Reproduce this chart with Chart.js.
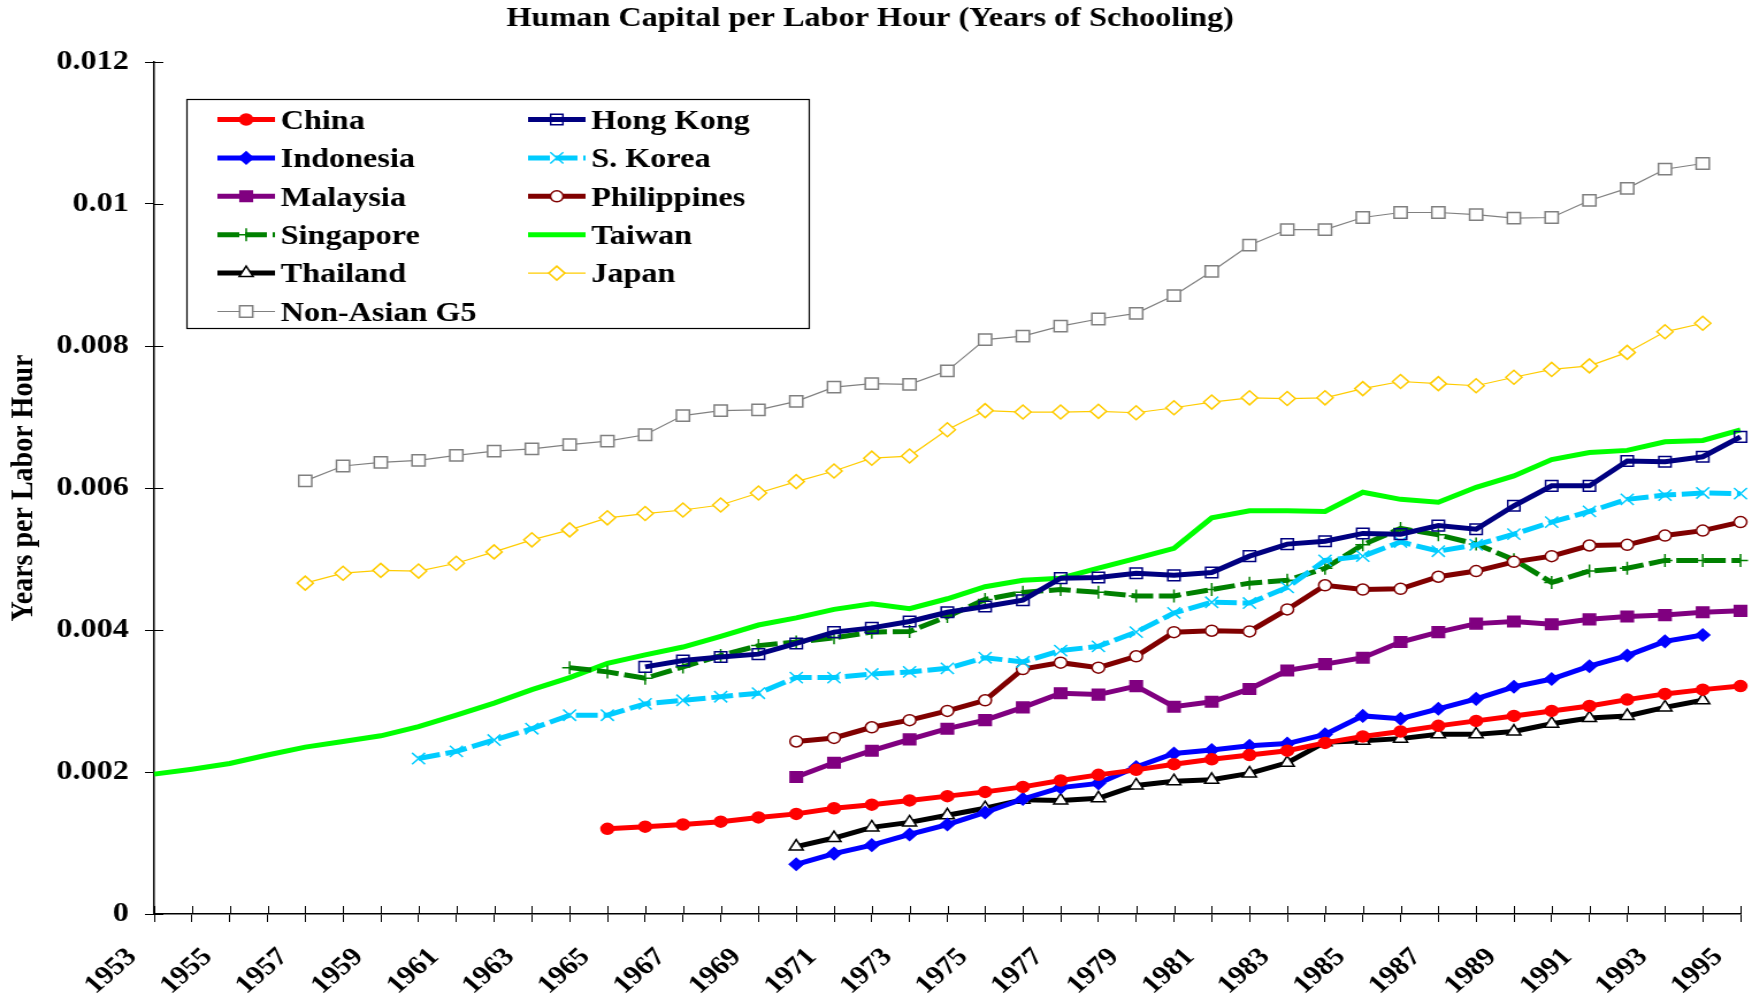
<!DOCTYPE html>
<html>
<head>
<meta charset="utf-8">
<script src="https://cdn.jsdelivr.net/npm/chart.js@4.4.0/dist/chart.umd.min.js"></script>
<style>
body{margin:0;background:#fff}
</style>
</head>
<body>
<canvas id="chart" width="1523" height="997" style="display:block;width:1752px;height:997px"></canvas>
<script>
'use strict';

// categories: one per year, labels every other year
var years = []
for (var yr = 1953; yr <= 1995; yr++) years.push(String(yr))

// series values (years of schooling per labor hour), with first year of each
var chinaStart = 1965
var china = [0.00120,0.00123,0.00126,0.00130,0.00136,0.00141,0.00149,0.00154,0.00160,0.00166,0.00172,0.00179,0.00188,0.00196,0.00203,0.00211,0.00218,0.00224,0.00230,0.00241,0.00250,0.00257,0.00265,0.00272,0.00279,0.00286,0.00293,0.00302,0.00310,0.00316,0.00321]
var hongKongStart = 1966
var hongKong = [0.00348,0.00357,0.00362,0.00366,0.00381,0.00397,0.00403,0.00412,0.00425,0.00433,0.00442,0.00473,0.00474,0.00480,0.00477,0.00481,0.00504,0.00521,0.00525,0.00536,0.00535,0.00547,0.00542,0.00575,0.00603,0.00603,0.00638,0.00637,0.00644,0.00672]
var indonesiaStart = 1970
var indonesia = [0.00070,0.00085,0.00097,0.00112,0.00126,0.00143,0.00162,0.00178,0.00184,0.00207,0.00226,0.00231,0.00237,0.00240,0.00253,0.00279,0.00275,0.00289,0.00303,0.00320,0.00331,0.00349,0.00364,0.00384,0.00393]
var koreaStart = 1960
var korea = [0.00219,0.00229,0.00245,0.00261,0.00280,0.00280,0.00296,0.00301,0.00306,0.00311,0.00333,0.00333,0.00338,0.00341,0.00346,0.00361,0.00355,0.00371,0.00377,0.00397,0.00424,0.00439,0.00438,0.00460,0.00498,0.00504,0.00524,0.00511,0.00520,0.00535,0.00552,0.00567,0.00584,0.00590,0.00593,0.00592]
var malaysiaStart = 1970
var malaysia = [0.00193,0.00213,0.00230,0.00246,0.00261,0.00273,0.00291,0.00311,0.00309,0.00321,0.00292,0.00299,0.00317,0.00343,0.00352,0.00361,0.00383,0.00397,0.00409,0.00412,0.00408,0.00415,0.00419,0.00421,0.00425,0.00427]
var philippinesStart = 1970
var philippines = [0.00243,0.00248,0.00263,0.00273,0.00286,0.00301,0.00345,0.00354,0.00347,0.00363,0.00397,0.00399,0.00398,0.00429,0.00463,0.00457,0.00458,0.00475,0.00483,0.00496,0.00504,0.00519,0.00520,0.00533,0.00540,0.00552]
var singaporeStart = 1964
var singapore = [0.00347,0.00341,0.00332,0.00348,0.00364,0.00378,0.00383,0.00389,0.00397,0.00398,0.00419,0.00443,0.00453,0.00457,0.00453,0.00448,0.00448,0.00457,0.00466,0.00470,0.00487,0.00520,0.00543,0.00534,0.00521,0.00499,0.00467,0.00483,0.00487,0.00498,0.00498,0.00498]
var taiwanStart = 1953
var taiwan = [0.00197,0.00204,0.00212,0.00224,0.00235,0.00243,0.00251,0.00264,0.00280,0.00297,0.00316,0.00333,0.00353,0.00365,0.00376,0.00391,0.00407,0.00417,0.00429,0.00437,0.00430,0.00444,0.00461,0.00470,0.00473,0.00487,0.00501,0.00515,0.00558,0.00568,0.00568,0.00567,0.00594,0.00584,0.00580,0.00601,0.00617,0.00640,0.00650,0.00653,0.00665,0.00667,0.00682]
var thailandStart = 1970
var thailand = [0.00095,0.00107,0.00122,0.00129,0.00139,0.00149,0.00161,0.00160,0.00163,0.00181,0.00187,0.00189,0.00198,0.00213,0.00242,0.00244,0.00247,0.00253,0.00253,0.00257,0.00268,0.00276,0.00279,0.00291,0.00301]
var japanStart = 1957
var japan = [0.00466,0.00480,0.00484,0.00483,0.00494,0.00510,0.00527,0.00541,0.00558,0.00564,0.00569,0.00576,0.00593,0.00609,0.00624,0.00642,0.00645,0.00682,0.00709,0.00707,0.00707,0.00708,0.00706,0.00713,0.00721,0.00727,0.00726,0.00727,0.00740,0.00750,0.00747,0.00744,0.00756,0.00767,0.00772,0.00791,0.00820,0.00832]
var g5Start = 1957
var g5 = [0.00610,0.00631,0.00636,0.00639,0.00646,0.00652,0.00655,0.00661,0.00666,0.00675,0.00702,0.00709,0.00710,0.00722,0.00742,0.00747,0.00746,0.00765,0.00809,0.00814,0.00828,0.00838,0.00846,0.00871,0.00905,0.00942,0.00964,0.00964,0.00981,0.00988,0.00988,0.00985,0.00980,0.00981,0.01005,0.01022,0.01049,0.01057]

var yTicks = [0, 0.002, 0.004, 0.006, 0.008, 0.01, 0.012]

const FONT = '"Liberation Serif", "Times New Roman", serif'

// put a series on the full year axis, null where there is no value
function onYears(start, values) {
	return years.map((y, i) => {
		var k = +y - start
		return k >= 0 && k < values.length ? values[k] : null
	})
}

function series(label, start, values, color, extra) {
	var ds = {
		label: label,
		data: onYears(start, values),
		borderColor: color,
		borderWidth: 5,
		pointBorderColor: color,
		pointBackgroundColor: color,
		pointBorderWidth: 1.5,
		pointRadius: 5.5,
		pointStyle: 'circle',
		tension: 0,
		clip: false
	}
	return Object.assign(ds, extra || {})
}

var datasets = [
	series('China', chinaStart, china, '#ff0000', {pointRadius: 5.5}),
	series('Hong Kong', hongKongStart, hongKong, '#000080', {pointStyle: 'rect', pointRadius: 7.5, pointBackgroundColor: 'rgba(0,0,0,0)'}),
	series('Indonesia', indonesiaStart, indonesia, '#0000ff', {pointStyle: 'rectRot', pointRadius: 6}),
	series('S. Korea', koreaStart, korea, '#00ccff', {borderDash: [19, 5], pointStyle: 'crossRot', pointRadius: 8}),
	series('Malaysia', malaysiaStart, malaysia, '#800080', {pointStyle: 'rect', pointRadius: 7.5}),
	series('Philippines', philippinesStart, philippines, '#800000', {pointRadius: 5.5, pointBackgroundColor: '#ffffff'}),
	series('Singapore', singaporeStart, singapore, '#008000', {borderDash: [19, 5], pointStyle: 'cross', pointRadius: 6.5}),
	series('Taiwan', taiwanStart, taiwan, '#00ff00', {pointRadius: 0}),
	series('Thailand', thailandStart, thailand, '#000000', {pointStyle: 'triangle', pointRadius: 7, pointBackgroundColor: '#ffffff'}),
	series('Japan', japanStart, japan, '#ffcc00', {borderWidth: 1.2, pointStyle: 'rectRot', pointRadius: 7, pointBackgroundColor: '#ffffff'}),
	series('Non-Asian G5', g5Start, g5, '#808080', {borderWidth: 1.2, pointStyle: 'rect', pointRadius: 8, pointBackgroundColor: '#ffffff'})
]

// tick marks that also reach into the plot, like the original axes
var crossTicks = {
	id: 'crossTicks',
	beforeDatasetsDraw: function(chart) {
		var x = chart.scales.x, y = chart.scales.y, ctx = chart.ctx
		ctx.save()
		ctx.strokeStyle = '#000'
		ctx.lineWidth = 1
		ctx.beginPath()
		x.ticks.forEach((t, i) => {
			var px = Math.round(x.getPixelForTick(i)) + 0.5
			ctx.moveTo(px, x.top)
			ctx.lineTo(px, x.top - 8)
		})
		y.ticks.forEach((t, i) => {
			var py = Math.round(y.getPixelForTick(i)) + 0.5
			ctx.moveTo(y.right, py)
			ctx.lineTo(y.right + 8, py)
		})
		ctx.stroke()
		ctx.restore()
	}
}

// boxed two-column legend inside the plot
var boxLegend = {
	id: 'boxLegend',
	afterDraw: function(chart) {
		var ctx = chart.ctx
		ctx.save()
		ctx.fillStyle = '#fff'
		ctx.fillRect(162, 99, 541, 229)
		ctx.strokeStyle = '#000'
		ctx.lineWidth = 1.2
		ctx.strokeRect(162.5, 99.5, 541, 229)
		chart.data.datasets.forEach((ds, i) => {
			var x0 = i % 2 ? 459 : 189
			var cy = 119.5 + Math.floor(i / 2) * 38.4
			ctx.strokeStyle = ds.borderColor
			ctx.lineWidth = ds.borderWidth
			ctx.setLineDash(ds.borderDash || [])
			ctx.beginPath()
			ctx.moveTo(x0, cy)
			ctx.lineTo(x0 + 50, cy)
			ctx.stroke()
			ctx.setLineDash([])
			if (ds.pointRadius > 0) {
				ctx.fillStyle = ds.pointBackgroundColor
				ctx.strokeStyle = ds.pointBorderColor
				ctx.lineWidth = ds.pointBorderWidth
				Chart.helpers.drawPoint(ctx, {pointStyle: ds.pointStyle, radius: ds.pointRadius, rotation: 0, borderWidth: ds.pointBorderWidth}, x0 + 25, cy)
			}
			ctx.fillStyle = '#000'
			ctx.font = 'bold 28px ' + FONT
			ctx.textAlign = 'left'
			ctx.textBaseline = 'middle'
			ctx.fillText(ds.label, x0 + 55, cy + 2)
		})
		ctx.restore()
	}
}

Chart.defaults.font.family = FONT
Chart.defaults.font.weight = 'bold'
Chart.defaults.color = '#000'

var chart = new Chart(document.getElementById('chart').getContext('2d'), {
	type: 'line',
	data: {labels: years, datasets: datasets},
	plugins: [crossTicks, boxLegend],
	options: {
		responsive: false,
		animation: false,
		devicePixelRatio: 1,
		layout: {padding: {left: 0, right: 10, top: 0, bottom: 0}},
		plugins: {
			legend: {display: false},
			tooltip: {enabled: false},
			title: {
				display: true,
				text: 'Human Capital per Labor Hour (Years of Schooling)',
				font: {size: 28, weight: 'bold', family: FONT},
				color: '#000',
				padding: {top: 2, bottom: 26.4}
			}
		},
		scales: {
			x: {
				type: 'category',
				offset: false,
				grid: {display: true, drawOnChartArea: false, drawTicks: true, tickLength: 8, color: '#000', offset: false},
				border: {display: true, color: '#000', width: 1.5},
				ticks: {
					autoSkip: false,
					maxRotation: 45,
					minRotation: 45,
					padding: 20,
					labelOffset: -19,
					font: {size: 26, weight: 'bold', family: FONT},
					color: '#000',
					callback: (v, i) => i % 2 === 0 ? years[i] : ''
				},
				afterFit: (s) => { s.height = 83; s.paddingLeft = 0; s.paddingRight = 0 }
			},
			y: {
				min: 0,
				max: 0.012,
				afterBuildTicks: (s) => { s.ticks = yTicks.map((v) => ({value: v})) },
				grid: {display: true, drawOnChartArea: false, drawTicks: true, tickLength: 8, color: '#000'},
				border: {display: true, color: '#000', width: 1.5},
				ticks: {
					padding: 14,
					font: {size: 28, weight: 'bold', family: FONT},
					color: '#000',
					callback: (v) => String(+(+v).toFixed(3))
				},
				title: {
					display: true,
					text: 'Years per Labor Hour',
					font: {size: 28, weight: 'bold', family: FONT},
					color: '#000',
					padding: {top: 4, bottom: 0}
				},
				afterFit: (s) => { s.width = 134; s.paddingTop = 0; s.paddingBottom = 0 }
			}
		}
	}
})
</script>
</body>
</html>
